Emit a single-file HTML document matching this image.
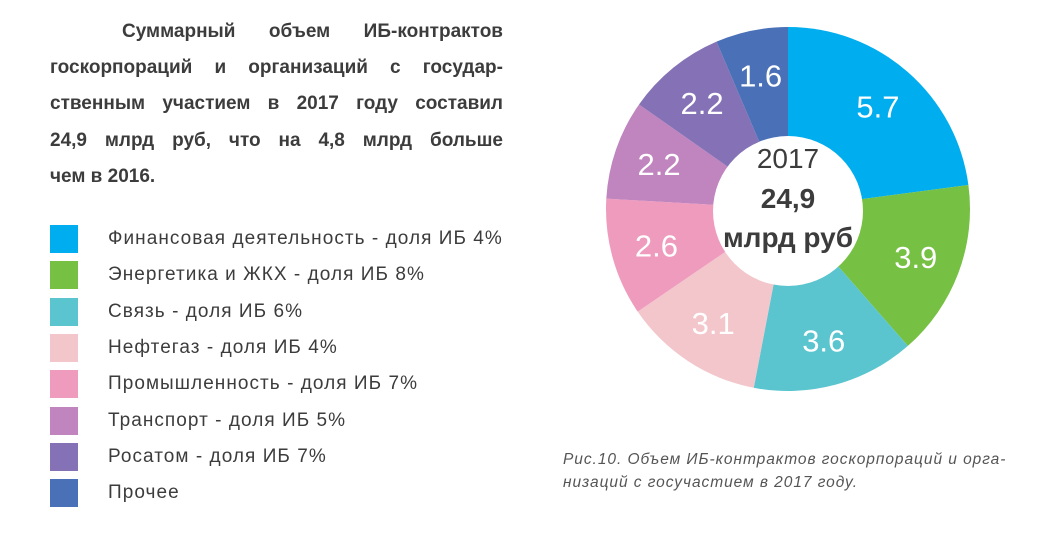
<!DOCTYPE html>
<html><head><meta charset="utf-8"><style>
body{margin:0;width:1057px;height:543px;background:#fff;position:relative;overflow:hidden;font-family:"Liberation Sans","DejaVu Sans",sans-serif;color:#3c3c3c}
#intro{position:absolute;left:50px;top:14px;width:453px;font-weight:bold;font-size:19px;line-height:36.2px}
#intro div{text-align:justify;text-align-last:justify;white-space:nowrap;overflow:visible}
#intro div.first{padding-left:72px}
#intro div.last{text-align-last:left}
.leg{position:absolute;left:50px;height:28px;display:flex;align-items:center;font-size:19px;letter-spacing:1.05px}
.leg .sw{width:28px;height:28px;margin-right:30px}
#caption{position:absolute;left:563px;top:448px;font-style:italic;font-size:15.5px;line-height:23px;color:#555;letter-spacing:0.95px}
svg{position:absolute;left:0;top:0}
</style></head><body>
<div id="intro">
<div class="first">Суммарный объем ИБ-контрактов</div>
<div>госкорпораций и организаций с государ-</div>
<div>ственным участием в 2017 году составил</div>
<div>24,9 млрд руб, что на 4,8 млрд больше</div>
<div class="last">чем в 2016.</div>
</div>
<div id="legend"></div>
<svg id="chart" width="1057" height="543"></svg>
<div id="caption">Рис.10. Объем ИБ-контрактов госкорпораций и орга-<br>низаций с госучастием в 2017 году.</div>
<script>
const categories=["Финансовая деятельность - доля ИБ 4%","Энергетика и ЖКХ - доля ИБ 8%","Связь - доля ИБ 6%","Нефтегаз - доля ИБ 4%","Промышленность - доля ИБ 7%","Транспорт - доля ИБ 5%","Росатом - доля ИБ 7%","Прочее"];
const values=[5.7,3.9,3.6,3.1,2.6,2.2,2.2,1.6];
const colors=["#00aeef","#76c043","#5bc5cf","#f2c6cb","#ef9bbd","#c084bf","#8572b6","#4a70b7"];
const centerTotal="24,9";
const NS="http://www.w3.org/2000/svg";
const svg=document.getElementById('chart');
const leg=document.getElementById('legend');
categories.forEach((c,i)=>{
  const d=document.createElement('div');d.className='leg';d.style.top=(225+i*36.3)+'px';
  
  
  d.innerHTML='<div class="sw" style="background:'+colors[i]+'"></div><span>'+c+'</span>';
  leg.appendChild(d);
});
const cx=788,cy=209,R=182,r=75;
const total=values.reduce((a,b)=>a+b,0);
let a0=0;
function pt(a,rad){return [cx+rad*Math.sin(a),cy-rad*Math.cos(a)];}
values.forEach((v,i)=>{
  const a1=a0+v/total*2*Math.PI;
  const [x0,y0]=pt(a0,R),[x1,y1]=pt(a1,R);
  const large=(a1-a0)>Math.PI?1:0;
  const p=document.createElementNS(NS,'path');
  p.setAttribute('d',`M${cx},${cy}L${x0},${y0}A${R},${R} 0 ${large} 1 ${x1},${y1}Z`);
  p.setAttribute('fill',colors[i]);
  
  
  svg.appendChild(p);
  const am=(a0+a1)/2;const [tx,ty]=pt(am,(R+r)/2+8);
  const t=document.createElementNS(NS,'text');
  t.setAttribute('x',tx);t.setAttribute('y',ty+11);t.setAttribute('text-anchor','middle');
  t.setAttribute('font-size','31');t.setAttribute('fill','#fff');
  t.setAttribute('font-family','Liberation Sans, sans-serif');
  t.textContent=String(v);
  
  
  svg.appendChild(t);
  a0=a1;
});
const c=document.createElementNS(NS,'circle');
c.setAttribute('cx',cx);c.setAttribute('cy',cy+2);c.setAttribute('r',r);c.setAttribute('fill','#fff');


svg.appendChild(c);
[["2017",168,'normal'],[centerTotal,208,'bold'],["млрд руб",247,'bold']].forEach(([s,y,w])=>{
  const t=document.createElementNS(NS,'text');
  t.setAttribute('x',cx);t.setAttribute('y',y);t.setAttribute('text-anchor','middle');
  t.setAttribute('font-size','28');t.setAttribute('font-weight',w);t.setAttribute('fill','#3c3c3c');
  t.setAttribute('font-family','Liberation Sans, sans-serif');
  t.textContent=s;
  
  
  svg.appendChild(t);
});
</script>
</body></html>
